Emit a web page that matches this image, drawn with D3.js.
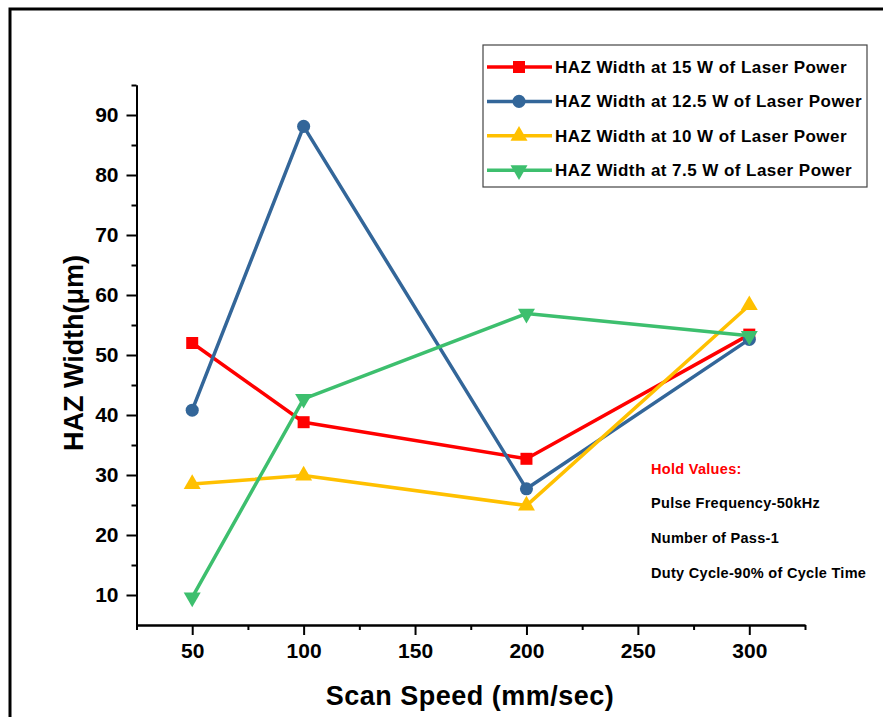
<!DOCTYPE html>
<html>
<head>
<meta charset="utf-8">
<script src="https://cdn.jsdelivr.net/npm/d3@7"></script>
<style>
	html, body { margin: 0; padding: 0; background: #fff; }
	svg { display: block; font-family: 'Liberation Sans', Arial, sans-serif; }
</style>
</head>
<body>
<div id="chart"></div>
<script>
// Chart data
const scanSpeeds = [ 50, 100, 200, 300 ];
const haz15W = [ 52.0, 38.8, 32.7, 53.4 ];
const haz12_5W = [ 40.8, 88.1, 27.7, 52.6 ];
const haz10W = [ 28.5, 29.9, 24.9, 58.3 ];
const haz7_5W = [ 9.6, 42.7, 56.9, 53.2 ];

const seriesLabels = [
	'HAZ Width at 15 W of Laser Power',
	'HAZ Width at 12.5 W of Laser Power',
	'HAZ Width at 10 W of Laser Power',
	'HAZ Width at 7.5 W of Laser Power',
];

const xTicks = [ 50, 100, 150, 200, 250, 300 ];
const xMinorTicks = [ 25, 75, 125, 175, 225, 275, 325 ];
const yTicks = [ 10, 20, 30, 40, 50, 60, 70, 80, 90 ];
const yMinorTicks = [ 15, 25, 35, 45, 55, 65, 75, 85, 95 ];

const holdValues = [
	'Pulse Frequency-50kHz',
	'Number of Pass-1',
	'Duty Cycle-90% of Cycle Time',
];

const series = [
	{ values: haz15W, color: '#ff0000', symbol: d3.symbolSquare, size: 144, rotate: 0 },
	{ values: haz12_5W, color: '#336699', symbol: d3.symbolCircle, size: 135, rotate: 0 },
	{ values: haz10W, color: '#ffc000', symbol: d3.symbolTriangle, size: 125, rotate: 0 },
	{ values: haz7_5W, color: '#3dbf6e', symbol: d3.symbolTriangle, size: 125, rotate: 180 },
];

const width = 883,
	height = 717;

const svg = d3.select( '#chart' )
	.append( 'svg' )
	.attr( 'width', width )
	.attr( 'height', height );

// Outer frame (only top and left edges are visible)
svg.append( 'rect' )
	.attr( 'x', 10 )
	.attr( 'y', 9 )
	.attr( 'width', 900 )
	.attr( 'height', 800 )
	.attr( 'fill', 'none' )
	.attr( 'stroke', '#000' )
	.attr( 'stroke-width', 3 );

const x = d3.scaleLinear().domain( [ 25, 325 ] ).range( [ 136.5, 805 ] );
const y = d3.scaleLinear().domain( [ 5, 95 ] ).range( [ 625, 85 ] );

// Axes
function styleAxis( g ) {
	g.select( '.domain' ).attr( 'stroke', '#000' ).attr( 'stroke-width', 2 );
	g.selectAll( '.tick line' ).attr( 'stroke', '#000' ).attr( 'stroke-width', 2 );
	g.selectAll( '.tick text' )
		.attr( 'fill', '#000' )
		.style( 'font-size', '21px' )
		.style( 'font-weight', 'bold' )
		.style( 'font-family', "'Liberation Sans', Arial, sans-serif" );
}

svg.append( 'g' )
	.attr( 'transform', `translate(0,${ y.range()[ 0 ] })` )
	.call( d3.axisBottom( x ).tickValues( xMinorTicks ).tickSize( 5 ).tickSizeOuter( 0 ).tickFormat( '' ) )
	.call( styleAxis );

svg.append( 'g' )
	.attr( 'transform', `translate(0,${ y.range()[ 0 ] })` )
	.call( d3.axisBottom( x ).tickValues( xTicks ).tickSize( 10 ).tickSizeOuter( 0 ).tickPadding( 8 ) )
	.call( styleAxis );

svg.append( 'g' )
	.attr( 'transform', `translate(${ x.range()[ 0 ] },0)` )
	.call( d3.axisLeft( y ).tickValues( yMinorTicks ).tickSize( 5 ).tickSizeOuter( 0 ).tickFormat( '' ) )
	.call( styleAxis );

svg.append( 'g' )
	.attr( 'transform', `translate(${ x.range()[ 0 ] },0)` )
	.call( d3.axisLeft( y ).tickValues( yTicks ).tickSize( 10 ).tickSizeOuter( 0 ).tickPadding( 8 ) )
	.call( styleAxis );

// Axis titles
svg.append( 'text' )
	.attr( 'x', 470 )
	.attr( 'y', 705 )
	.attr( 'text-anchor', 'middle' )
	.attr( 'font-size', 27 )
	.attr( 'font-weight', 'bold' )
	.attr( 'letter-spacing', 0.5 )
	.text( 'Scan Speed (mm/sec)' );

svg.append( 'text' )
	.attr( 'transform', 'translate(83,353) rotate(-90)' )
	.attr( 'text-anchor', 'middle' )
	.attr( 'font-size', 27 )
	.attr( 'font-weight', 'bold' )
	.text( 'HAZ Width(μm)' );

// Lines and markers
const line = d3.line()
	.x( ( d ) => x( d.speed ) )
	.y( ( d ) => y( d.value ) );

series.forEach( ( s ) => {
	const points = scanSpeeds.map( ( speed, i ) => ( { speed, value: s.values[ i ] } ) );

	svg.append( 'path' )
		.datum( points )
		.attr( 'fill', 'none' )
		.attr( 'stroke', s.color )
		.attr( 'stroke-width', 3.5 )
		.attr( 'stroke-linejoin', 'round' )
		.attr( 'd', line );

	svg.selectAll( null )
		.data( points )
		.enter()
		.append( 'path' )
		.attr( 'd', d3.symbol().type( s.symbol ).size( s.size ) )
		.attr( 'transform', ( d ) => `translate(${ x( d.speed ) },${ y( d.value ) }) rotate(${ s.rotate })` )
		.attr( 'fill', s.color );
} );

// Legend
const legend = svg.append( 'g' );

legend.append( 'rect' )
	.attr( 'x', 483 )
	.attr( 'y', 45 )
	.attr( 'width', 384 )
	.attr( 'height', 142 )
	.attr( 'fill', '#fff' )
	.attr( 'stroke', '#444' )
	.attr( 'stroke-width', 1.2 );

series.forEach( ( s, i ) => {
	const rowY = 67 + i * 34.4;

	legend.append( 'line' )
		.attr( 'x1', 487 )
		.attr( 'x2', 552 )
		.attr( 'y1', rowY )
		.attr( 'y2', rowY )
		.attr( 'stroke', s.color )
		.attr( 'stroke-width', 3.5 );

	legend.append( 'path' )
		.attr( 'd', d3.symbol().type( s.symbol ).size( s.size ) )
		.attr( 'transform', `translate(519,${ rowY }) rotate(${ s.rotate })` )
		.attr( 'fill', s.color );

	legend.append( 'text' )
		.attr( 'x', 555 )
		.attr( 'y', rowY )
		.attr( 'dy', '0.35em' )
		.attr( 'font-size', 17 )
		.attr( 'font-weight', 'bold' )
		.attr( 'letter-spacing', 0.45 )
		.text( seriesLabels[ i ] );
} );

// Hold values note
svg.append( 'text' )
	.attr( 'x', 651 )
	.attr( 'y', 469 )
	.attr( 'dy', '0.35em' )
	.attr( 'font-size', 14.5 )
	.attr( 'font-weight', 'bold' )
	.attr( 'letter-spacing', 0.3 )
	.attr( 'fill', '#ff0000' )
	.text( 'Hold Values:' );

holdValues.forEach( ( t, i ) => {
	svg.append( 'text' )
		.attr( 'x', 651 )
		.attr( 'y', 503 + i * 35 )
		.attr( 'dy', '0.35em' )
		.attr( 'font-size', 14.5 )
		.attr( 'font-weight', 'bold' )
		.attr( 'letter-spacing', 0.3 )
		.attr( 'fill', '#000' )
		.text( t );
} );
</script>
</body>
</html>
